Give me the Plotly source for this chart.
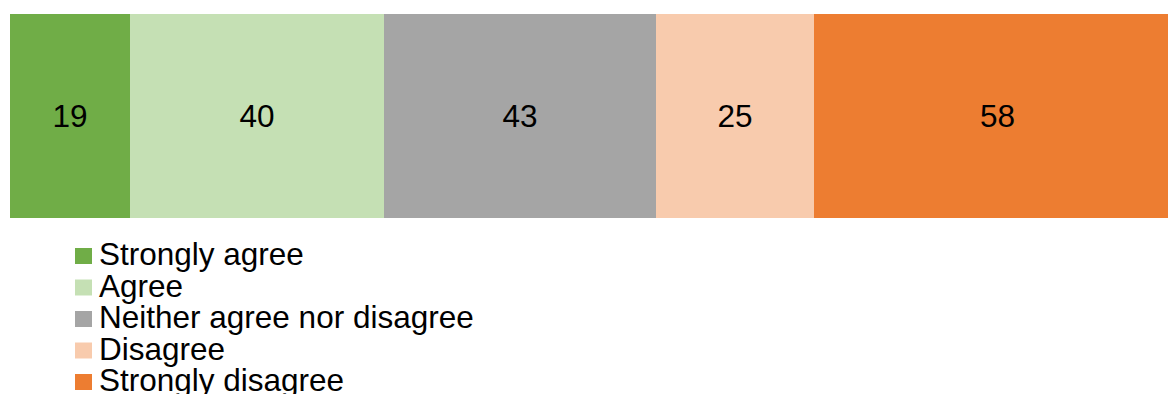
import plotly.graph_objects as go

categories = ["Strongly agree", "Agree", "Neither agree nor disagree", "Disagree", "Strongly disagree"]
values = [19, 40, 43, 25, 58]
colors = ["#70AD47", "#C5E0B4", "#A5A5A5", "#F8CBAD", "#ED7D31"]

W, H = 1168, 394
ML, MR, MT, MB = 10, 0, 14, 176
PW = W - ML - MR
PH = H - MT - MB
FONT = "Liberation Sans, Arial, sans-serif"

fig = go.Figure()
for name, v, c in zip(categories, values, colors):
    fig.add_trace(go.Bar(
        y=[""], x=[v], name=name, orientation="h",
        marker=dict(color=c, line=dict(width=0)),
        text=[str(v)], textposition="inside", insidetextanchor="middle",
        textfont=dict(size=31.5, color="#000000", family=FONT),
        showlegend=False, hoverinfo="skip",
    ))

def px_to_paper_x(px):
    return (px - ML) / PW

def px_to_paper_y(py):
    return (H - MB - py) / PH

shapes = []
annotations = []
first_center = 256
step = 31.5
for i, (name, c) in enumerate(zip(categories, colors)):
    cy = first_center + i * step
    shapes.append(dict(type="rect", xref="paper", yref="paper",
                       x0=px_to_paper_x(75), x1=px_to_paper_x(92),
                       y0=px_to_paper_y(cy - 8), y1=px_to_paper_y(cy + 8),
                       fillcolor=c, line=dict(width=0)))
    annotations.append(dict(text=name, xref="paper", yref="paper",
                            x=px_to_paper_x(97), y=px_to_paper_y(cy - 2),
                            xanchor="left", yanchor="middle", showarrow=False,
                            font=dict(size=31.5, color="#000000", family=FONT)))

fig.update_layout(
    barmode="stack", bargap=0,
    width=W, height=H,
    margin=dict(l=ML, r=MR, t=MT, b=MB, pad=0),
    paper_bgcolor="white", plot_bgcolor="white",
    xaxis=dict(range=[0, 182.9], visible=False, fixedrange=True),
    yaxis=dict(range=[-0.5, 0.5], visible=False, fixedrange=True),
    shapes=shapes, annotations=annotations,
    showlegend=False,
    font=dict(family=FONT),
)

fig.write_html("out.html", config={"displayModeBar": False})
